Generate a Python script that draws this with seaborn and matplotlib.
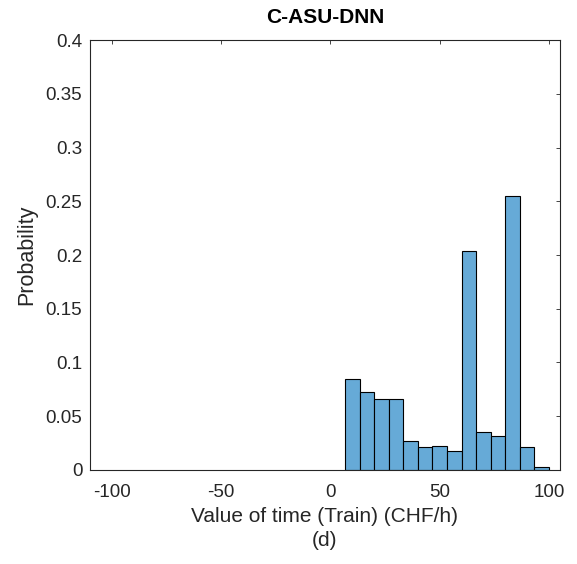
import matplotlib
matplotlib.use("Agg")
import matplotlib.pyplot as plt
import matplotlib.ticker as mticker
import seaborn as sns
import pandas as pd
import numpy as np

# histogram: 14 bins of width 20/3 from 6.67 to 100
bin_edges = [20 / 3 * i for i in range(1, 16)]
probs = [0.085, 0.073, 0.066, 0.066, 0.027, 0.0215, 0.0227, 0.0175,
         0.204, 0.035, 0.032, 0.255, 0.0215, 0.003]
centers = [(a + b) / 2 for a, b in zip(bin_edges[:-1], bin_edges[1:])]

df = pd.DataFrame({'vot': centers, 'prob': probs})

sns.set_style("white")
plt.rcParams['font.family'] = ['Liberation Sans', 'DejaVu Sans']
plt.rcParams['axes.unicode_minus'] = False

fig = plt.figure(figsize=(5.77, 5.64), dpi=100)
ax = fig.add_axes([0.156, 0.1667, 0.8145, 0.7623])

sns.histplot(data=df, x='vot', weights='prob', bins=bin_edges, ax=ax,
             color='#66AAD7', alpha=1, edgecolor='black', linewidth=0.8)

ax.set_xlim(-110, 105)
ax.set_ylim(0, 0.4)
ax.set_xticks([-100, -50, 0, 50, 100])
ax.set_yticks(np.arange(0, 0.401, 0.05))
ax.yaxis.set_major_formatter(mticker.FuncFormatter(lambda v, p: '%g' % round(v, 2)))
ax.tick_params(direction='in', top=True, right=True, length=3, width=0.6,
               labelsize=13.5, colors='#262626')
ax.tick_params(axis='x', pad=10)
ax.tick_params(axis='y', pad=5.5)
for s in ax.spines.values():
    s.set_color('#262626')
    s.set_linewidth(0.8)

ax.set_xlabel('Value of time (Train) (CHF/h)', fontsize=15, color='#262626', labelpad=4.5)
ax.set_ylabel('Probability', fontsize=15.5, color='#262626', labelpad=6)
ax.set_title('C-ASU-DNN', fontsize=15, fontweight='bold', color='black', pad=12)
fig.text(0.156 + 0.8145 / 2, 1 - 541 / 564, '(d)', fontsize=15, color='#262626',
         ha='center', va='center')

fig.savefig('out.png', dpi=100)
